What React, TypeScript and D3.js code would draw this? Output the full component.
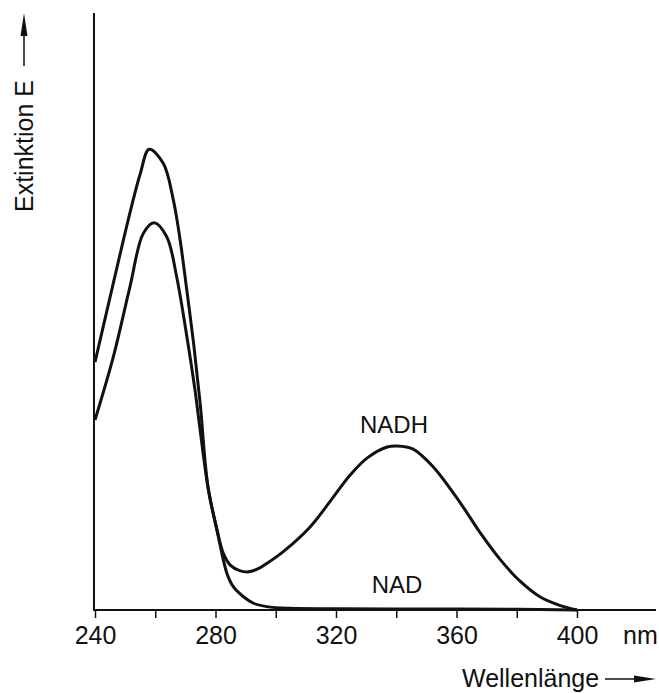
import { useEffect, useRef } from "react";
import { select, scaleLinear, line, curveCatmullRom, axisBottom } from "d3";

// NAD+ spectrum (wavelength nm, extinction)
const nadWavelength = [240, 246.1, 251.6, 255, 258, 262.7, 266, 268.2, 270.5, 272.7, 274.9, 277.5, 280.5, 283.8, 285.9, 289.3, 292.6, 297, 304.8, 320, 350, 380, 400];
const nadExtinction = [9.55, 12.6, 15.3, 16.8, 17.75, 17.2, 15.8, 14.3, 12.3, 10.3, 7.97, 4.74, 3.08, 1.41, 0.9, 0.51, 0.26, 0.13, 0.065, 0.05, 0.04, 0.03, 0];

// NADH spectrum
const nadhWavelength = [240, 246.1, 251.6, 256, 259.6, 263.8, 267.1, 270.5, 273.2, 274.9, 277.5, 280.5, 282.6, 284.9, 288, 291, 294, 297.1, 302.5, 311.4, 319.1, 324.7, 330.4, 337, 340.3, 345.6, 352.3, 361.3, 367.9, 374.6, 381.2, 387.8, 394.5, 400];
const nadhExtinction = [7.32, 9.76, 12.45, 14.5, 14.92, 14.38, 12.84, 10.53, 8.47, 6.93, 4.74, 3.08, 2.18, 1.73, 1.52, 1.47, 1.58, 1.8, 2.25, 3.2, 4.35, 5.2, 5.86, 6.28, 6.32, 6.2, 5.51, 4.12, 2.97, 1.93, 1.1, 0.5, 0.17, 0];

const tickValues = [240, 260, 280, 300, 320, 340, 360, 380, 400];
const labeledTicks = [240, 280, 320, 360, 400];

const FONT = "'Liberation Sans', Arial, Helvetica, sans-serif";

function App() {
  const axisRef = useRef<SVGGElement>(null);

  const xScale = scaleLinear().domain([240, 400]).range([95, 577]);
  const yScale = scaleLinear().domain([0, 23]).range([610, 13]);

  const spectrum = line<[number, number]>()
    .x((d) => xScale(d[0]))
    .y((d) => yScale(d[1]))
    .curve(curveCatmullRom.alpha(0.5));

  const nad = nadWavelength.map((w, i) => [w, nadExtinction[i]] as [number, number]);
  const nadh = nadhWavelength.map((w, i) => [w, nadhExtinction[i]] as [number, number]);

  useEffect(() => {
    const xAxis = axisBottom(xScale)
      .tickValues(tickValues)
      .tickSize(8)
      .tickSizeOuter(0)
      .tickPadding(8)
      .tickFormat((v) => (labeledTicks.includes(+v) ? String(v) : ""));
    const g = select(axisRef.current);
    g.call(xAxis as any);
    g.select(".domain").remove();
    g.selectAll(".tick line").attr("stroke", "#111").attr("stroke-width", 1.5);
    g.selectAll(".tick text")
      .attr("fill", "#111")
      .style("font-family", FONT)
      .style("font-size", "25px");
  }, []);

  const x0 = xScale(240);
  const y0 = yScale(0);

  return (
    <svg
      width={659}
      height={693}
      style={{ position: "absolute", left: 0, top: 0, background: "#fff" }}
    >
      <rect width={659} height={693} fill="#fff" />
      {/* y axis */}
      <line x1={x0 - 1} x2={x0 - 1} y1={yScale(23)} y2={y0} stroke="#111" strokeWidth={2} />
      {/* x axis */}
      <line x1={x0 - 2} x2={656} y1={y0} y2={y0} stroke="#111" strokeWidth={2} />
      <g ref={axisRef} transform={`translate(0,${y0})`} />
      <text x={623} y={644} fontFamily={FONT} fontSize={25} fill="#111">nm</text>

      <path d={spectrum(nad) ?? ""} fill="none" stroke="#111" strokeWidth={3} strokeLinejoin="round" />
      <path d={spectrum(nadh) ?? ""} fill="none" stroke="#111" strokeWidth={3} strokeLinejoin="round" />

      <text x={394} y={433} textAnchor="middle" fontFamily={FONT} fontSize={24} fill="#111">NADH</text>
      <text x={397} y={593} textAnchor="middle" fontFamily={FONT} fontSize={24} fill="#111">NAD</text>

      {/* y label with arrow */}
      <text
        transform="translate(33,212) rotate(-90)"
        fontFamily={FONT}
        fontSize={25}
        fill="#111"
      >
        Extinktion E
      </text>
      <line x1={24} x2={24} y1={66} y2={30} stroke="#111" strokeWidth={1.5} />
      <path d="M24,13 L20.5,36 L27.5,36 Z" fill="#111" />

      {/* x label with arrow */}
      <text x={462} y={687} fontFamily={FONT} fontSize={25} fill="#111">Wellenlänge</text>
      <line x1={605} x2={640} y1={679} y2={679} stroke="#111" strokeWidth={1.5} />
      <path d="M656,679 L634,675.5 L634,682.5 Z" fill="#111" />
    </svg>
  );
}

export default App;
